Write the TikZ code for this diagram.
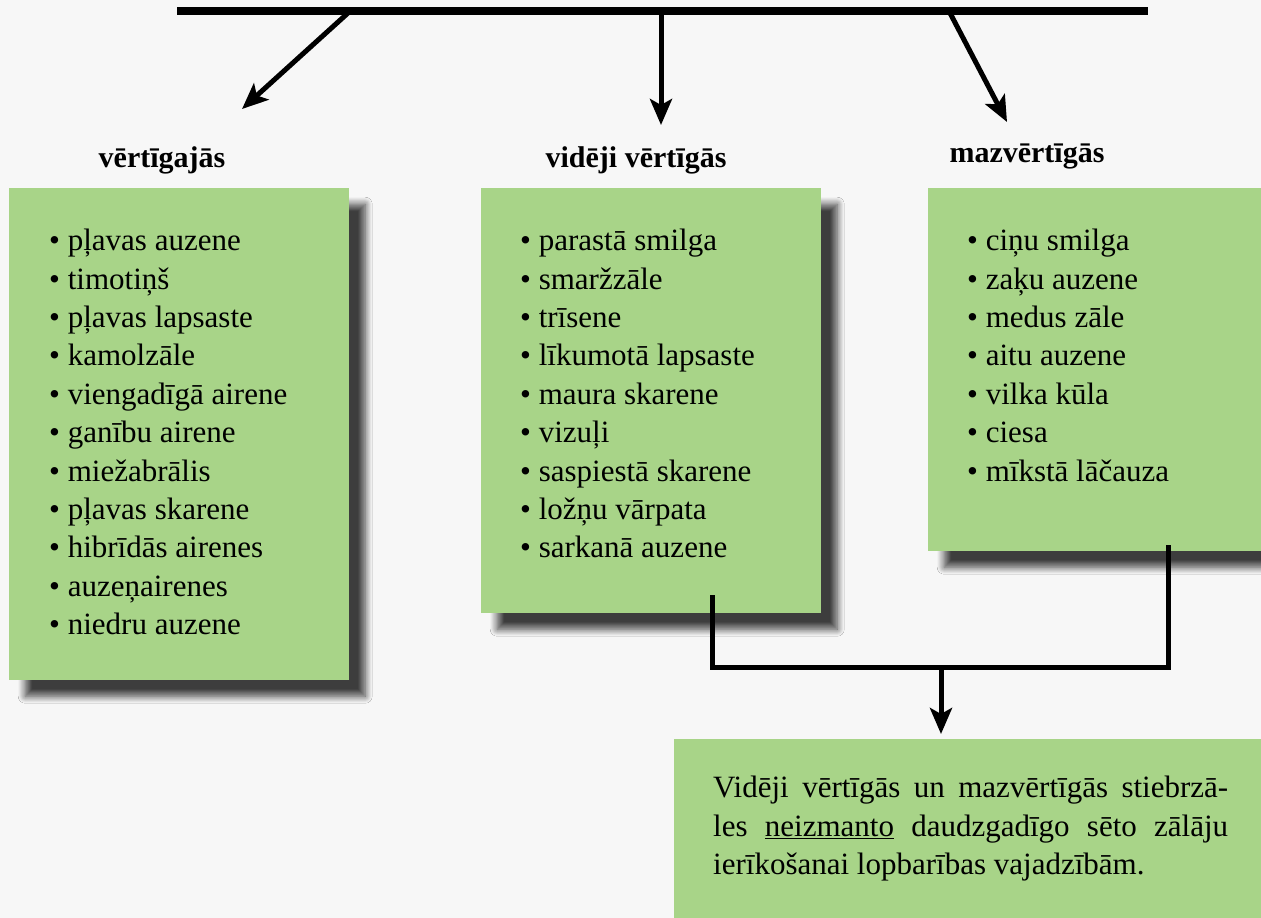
\documentclass[tikz,border=0pt]{standalone}
\usepackage{fontspec}
\setmainfont{Liberation Serif}
\usetikzlibrary{arrows.meta,shadows.blur}
\definecolor{bgc}{RGB}{247,247,247}
\definecolor{grn}{RGB}{168,212,136}
\tikzset{
  gbox/.style={rectangle, fill=grn, inner sep=0pt, anchor=north west,
    blur shadow={shadow xshift=16pt, shadow yshift=-16pt, shadow blur radius=7pt, shadow blur steps=10, shadow opacity=75}},
  gboxplain/.style={rectangle, fill=grn, inner sep=0pt, anchor=north west},
  hdr/.style={font=\fontsize{30}{36}\selectfont\bfseries, inner sep=0pt},
  lst/.style={font=\fontsize{31}{38.4}\selectfont, align=left, inner sep=0pt, anchor=north west},
  conn/.style={line width=5pt, line cap=butt},
  arr/.style={line width=5pt, -{Stealth[length=26pt, width=22pt, inset=6pt]}},
}
\begin{document}
\begin{tikzpicture}[x=1pt, y=-1pt]
\useasboundingbox (0,0) rectangle (1261,918);
\fill[bgc] (0,0) rectangle (1261,918);
% top bar
\node[rectangle, fill=black, inner sep=0pt, minimum width=971pt, minimum height=8pt, anchor=north west] (bar) at (177,7) {};
\coordinate (s1) at (348,13);
\coordinate (s2) at (661,13);
\coordinate (s3) at (950,13);
\coordinate (t1) at (242,109);
\coordinate (t2) at (661,125);
\coordinate (t3) at (1007,122);
\draw[arr] (s1) -- (t1);
\draw[arr] (s2) -- (t2);
\draw[arr] (s3) -- (t3);
% headers
\node[hdr] (h1) at (162,160) {vērtīgajās};
\node[hdr] (h2) at (636,160) {vidēji vērtīgās};
\node[hdr] (h3) at (1027,156) {mazvērtīgās};
% boxes
\node[gbox, minimum width=340pt, minimum height=492pt] (b1) at (9,188) {};
\node[gbox, minimum width=340pt, minimum height=425pt] (b2) at (481,188) {};
\node[gbox, minimum width=360pt, minimum height=363pt] (b3) at (928,188) {};
\node[gboxplain, minimum width=600pt, minimum height=200pt] (b4) at (674,739) {};
% lists
\node[lst] (l1) at (49,229) {• pļavas auzene\\ • timotiņš\\ • pļavas lapsaste\\ • kamolzāle\\ • viengadīgā airene\\ • ganību airene\\ • miežabrālis\\ • pļavas skarene\\ • hibrīdās airenes\\ • auzeņairenes\\ • niedru auzene};
\node[lst] (l2) at (520,229) {• parastā smilga\\ • smaržzāle\\ • trīsene\\ • līkumotā lapsaste\\ • maura skarene\\ • vizuļi\\ • saspiestā skarene\\ • ložņu vārpata\\ • sarkanā auzene};
\node[lst] (l3) at (967,229) {• ciņu smilga\\ • zaķu auzene\\ • medus zāle\\ • aitu auzene\\ • vilka kūla\\ • ciesa\\ • mīkstā lāčauza};
% bottom text
\node[inner sep=0pt, anchor=north west, font=\fontsize{31}{38.4}\selectfont] (txt) at (713,776) {\parbox[t]{515pt}{Vidēji vērtīgās un mazvērtīgās stiebrzā-\linebreak les \underline{neizmanto} daudzgadīgo sēto zālāju\linebreak ierīkošanai lopbarības vajadzībām.}};
% connectors
\coordinate (c2) at (712,595);
\coordinate (c3) at (1168,545);
\coordinate (j2) at (712,667);
\coordinate (j3) at (1168,667);
\coordinate (jm) at (941,667);
\coordinate (t4) at (941,734);
\draw[conn, line join=miter] (c2) -- (j2) -- (j3) -- (c3);
\draw[arr] (jm) -- (t4);
\end{tikzpicture}
\end{document}
